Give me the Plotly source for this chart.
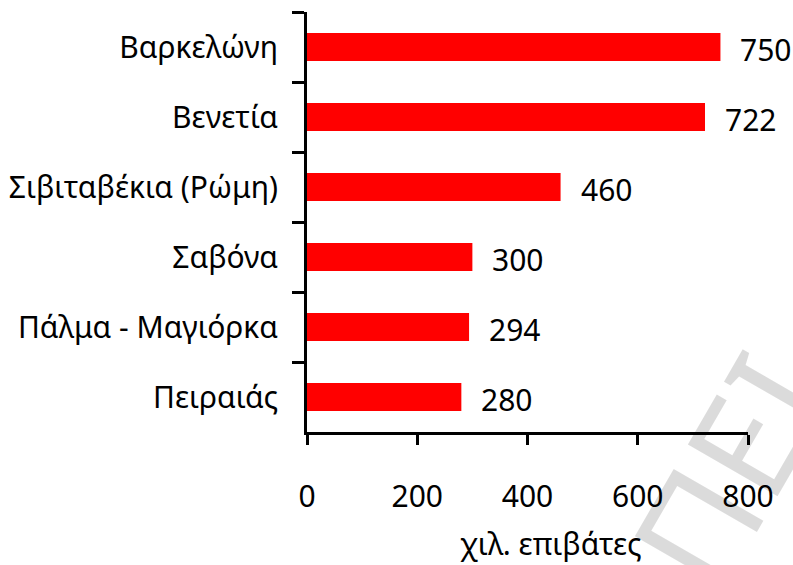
import plotly.graph_objects as go

categories = ["Βαρκελώνη", "Βενετία", "Σιβιταβέκια (Ρώμη)", "Σαβόνα", "Πάλμα - Μαγιόρκα", "Πειραιάς"]
values = [750, 722, 460, 300, 294, 280]
x_ticks = [0, 200, 400, 600, 800]
x_title = "χιλ. επιβάτες"
watermark = "ΠΕΙ"

FONT = "Noto Sans"
FS = 30
L, R, T, B, W, H = 307, 45, 12, 133, 793, 565
PW, PH = W - L - R, H - T - B


def px(x):
    return (x - L) / PW


def py(y):
    return (H - B - y) / PH


fig = go.Figure()
fig.add_trace(go.Bar(
    y=categories, x=values, orientation="h",
    marker=dict(color="#ff0000", line=dict(width=0)),
    width=0.4, hoverinfo="skip",
))
for c, v in zip(categories, values):
    fig.add_annotation(x=v, y=c, xref="x", yref="y", text=str(v), showarrow=False,
                       xanchor="left", yanchor="middle", xshift=18, yshift=-2,
                       font=dict(family=FONT, size=FS, color="#000"))

# watermark
fig.add_annotation(x=px(728), y=py(470), xref="paper", yref="paper", text=watermark, showarrow=False,
                   xanchor="center", yanchor="middle",
                   textangle=-60, font=dict(family=FONT, size=145, color="rgba(0,0,0,0.14)"))

fig.add_annotation(x=px(551), y=py(543), xref="paper", yref="paper", text=x_title, showarrow=False,
                   xanchor="center", yanchor="middle",
                   font=dict(family=FONT, size=FS, color="#000"))

fig.update_layout(
    width=W, height=H,
    margin=dict(l=L, r=R, t=T, b=B),
    paper_bgcolor="white", plot_bgcolor="white",
    showlegend=False,
    font=dict(family=FONT, size=FS, color="#000"),
    xaxis=dict(range=[0, 800], tickvals=x_ticks, ticks="outside", ticklen=10, tickwidth=3,
               tickcolor="black", showline=True, linecolor="black", linewidth=3,
               showgrid=False, zeroline=False, ticklabelstandoff=26, fixedrange=True,
               automargin=False),
    yaxis=dict(categoryorder="array", categoryarray=categories, autorange="reversed",
               ticks="outside", tickson="boundaries", ticklen=12, tickwidth=3, tickcolor="black",
               showline=True, linecolor="black", linewidth=3, showgrid=False,
               ticklabelstandoff=20, fixedrange=True, automargin=False),
)
fig.write_html("out.html")
